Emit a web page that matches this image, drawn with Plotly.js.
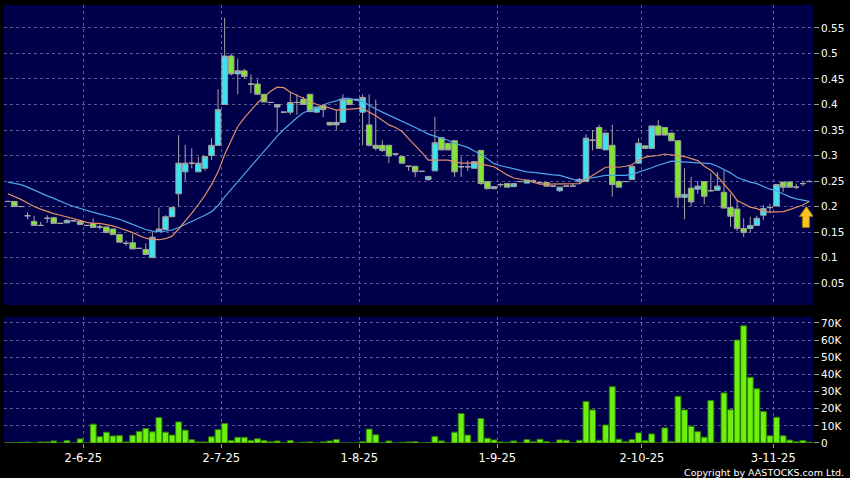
<!DOCTYPE html>
<html>
<head>
<meta charset="utf-8">
<script src="https://cdn.plot.ly/plotly-3.0.1.min.js"></script>
<style>
  html, body { margin: 0; padding: 0; background: #000000; }
  #chart { width: 850px; height: 478px; }
</style>
</head>
<body>
<div id="chart"></div>
<script>
// ---- Trading days shown (categories) ----
const dates = [
  "2025-05-15","2025-05-16","2025-05-19","2025-05-20","2025-05-21","2025-05-22","2025-05-23","2025-05-26","2025-05-27","2025-05-28","2025-05-29","2025-05-30",
  "2025-06-02","2025-06-03","2025-06-04","2025-06-05","2025-06-06","2025-06-09","2025-06-10","2025-06-11","2025-06-12","2025-06-13","2025-06-16","2025-06-17","2025-06-18","2025-06-19","2025-06-20","2025-06-23","2025-06-24","2025-06-25","2025-06-26","2025-06-27","2025-06-30",
  "2025-07-02","2025-07-03","2025-07-04","2025-07-07","2025-07-08","2025-07-09","2025-07-10","2025-07-11","2025-07-14","2025-07-15","2025-07-16","2025-07-17","2025-07-18","2025-07-21","2025-07-22","2025-07-23","2025-07-24","2025-07-28","2025-07-29","2025-07-30","2025-07-31",
  "2025-08-01","2025-08-04","2025-08-05","2025-08-06","2025-08-07","2025-08-08","2025-08-11","2025-08-12","2025-08-13","2025-08-14","2025-08-15","2025-08-18","2025-08-19","2025-08-20","2025-08-21","2025-08-22","2025-08-25","2025-08-26","2025-08-27","2025-08-28","2025-08-29",
  "2025-09-01","2025-09-02","2025-09-03","2025-09-04","2025-09-05","2025-09-08","2025-09-09","2025-09-10","2025-09-11","2025-09-12","2025-09-15","2025-09-16","2025-09-17","2025-09-18","2025-09-19","2025-09-22","2025-09-23","2025-09-24","2025-09-25","2025-09-26","2025-09-29","2025-09-30",
  "2025-10-02","2025-10-03","2025-10-06","2025-10-08","2025-10-09","2025-10-10","2025-10-13","2025-10-14","2025-10-15","2025-10-16","2025-10-17","2025-10-20","2025-10-21","2025-10-22","2025-10-23","2025-10-24","2025-10-27","2025-10-28","2025-10-30","2025-10-31",
  "2025-11-03","2025-11-04","2025-11-05","2025-11-06","2025-11-07","2025-11-10"
];

// ---- Price series ----
const openP = [
  0.21,0.21,0.20,0.182,0.171,0.163,0.177,0.178,0.167,0.168,
  0.172,0.171,0.163,0.167,0.16,0.16,0.156,0.145,0.128,0.129,
  0.118,0.116,0.10,0.153,0.155,0.18,0.225,0.268,0.285,0.268,
  0.275,0.30,0.32,0.40,0.495,0.46,0.466,0.44,0.44,0.42,
  0.404,0.395,0.385,0.385,0.404,0.41,0.42,0.385,0.398,0.365,
  0.36,0.365,0.41,0.41,0.385,0.36,0.32,0.32,0.32,0.303,
  0.298,0.279,0.279,0.269,0.253,0.27,0.335,0.324,0.329,0.278,
  0.278,0.275,0.31,0.249,0.235,0.243,0.245,0.239,0.249,0.246,
  0.25,0.247,0.247,0.24,0.231,0.24,0.24,0.249,0.249,0.33,
  0.355,0.311,0.32,0.249,0.249,0.253,0.285,0.319,0.314,0.358,
  0.355,0.344,0.329,0.218,0.236,0.234,0.249,0.231,0.232,0.228,
  0.198,0.195,0.157,0.157,0.163,0.183,0.198,0.201,0.248,0.248,
  0.238,0.245,0.249
];
const highP = [
  0.21,0.21,0.20,0.189,0.182,0.17,0.183,0.18,0.167,0.175,
  0.172,0.171,0.163,0.177,0.165,0.16,0.156,0.145,0.133,0.147,
  0.118,0.128,0.151,0.198,0.183,0.20,0.34,0.321,0.314,0.298,
  0.298,0.334,0.43,0.57,0.50,0.49,0.47,0.459,0.449,0.42,
  0.404,0.40,0.385,0.425,0.42,0.415,0.42,0.395,0.398,0.365,
  0.39,0.42,0.41,0.41,0.42,0.42,0.41,0.33,0.32,0.303,
  0.298,0.279,0.279,0.269,0.259,0.376,0.335,0.324,0.329,0.298,
  0.29,0.288,0.31,0.249,0.239,0.246,0.245,0.245,0.249,0.252,
  0.253,0.247,0.247,0.24,0.238,0.24,0.245,0.256,0.342,0.35,
  0.36,0.344,0.36,0.252,0.249,0.279,0.334,0.319,0.358,0.37,
  0.355,0.344,0.329,0.275,0.258,0.25,0.249,0.265,0.268,0.271,
  0.225,0.213,0.177,0.18,0.182,0.203,0.205,0.243,0.248,0.25,
  0.245,0.25,0.252
];
const lowP = [
  0.21,0.20,0.20,0.175,0.163,0.163,0.168,0.167,0.167,0.168,
  0.172,0.165,0.163,0.159,0.155,0.149,0.145,0.13,0.123,0.117,
  0.118,0.106,0.10,0.153,0.155,0.18,0.20,0.249,0.275,0.268,
  0.27,0.291,0.32,0.40,0.457,0.42,0.45,0.422,0.42,0.404,
  0.404,0.345,0.385,0.38,0.38,0.40,0.386,0.385,0.375,0.358,
  0.35,0.365,0.40,0.41,0.32,0.318,0.31,0.307,0.285,0.303,
  0.285,0.27,0.258,0.269,0.25,0.27,0.311,0.311,0.258,0.258,
  0.27,0.275,0.243,0.234,0.235,0.238,0.238,0.239,0.249,0.246,
  0.246,0.247,0.24,0.24,0.228,0.24,0.24,0.246,0.249,0.31,
  0.314,0.311,0.219,0.238,0.249,0.253,0.285,0.314,0.314,0.34,
  0.34,0.329,0.198,0.175,0.2,0.225,0.205,0.23,0.232,0.197,
  0.16,0.152,0.14,0.15,0.163,0.174,0.187,0.201,0.229,0.238,
  0.234,0.24,0.249
];
const closeP = [
  0.21,0.20,0.20,0.182,0.163,0.163,0.177,0.167,0.167,0.173,
  0.172,0.165,0.163,0.159,0.16,0.149,0.145,0.13,0.128,0.117,
  0.118,0.106,0.14,0.156,0.18,0.198,0.285,0.285,0.285,0.285,
  0.298,0.32,0.39,0.495,0.46,0.466,0.455,0.44,0.42,0.405,
  0.404,0.40,0.385,0.404,0.404,0.40,0.386,0.395,0.39,0.36,
  0.365,0.41,0.40,0.41,0.414,0.32,0.314,0.31,0.299,0.303,
  0.285,0.279,0.268,0.269,0.259,0.325,0.311,0.311,0.268,0.278,
  0.278,0.288,0.245,0.235,0.239,0.243,0.238,0.245,0.249,0.252,
  0.25,0.247,0.24,0.24,0.238,0.24,0.24,0.253,0.334,0.33,
  0.314,0.344,0.243,0.238,0.249,0.279,0.324,0.314,0.358,0.34,
  0.34,0.329,0.218,0.224,0.209,0.24,0.22,0.231,0.24,0.197,
  0.181,0.157,0.149,0.163,0.177,0.196,0.198,0.243,0.238,0.238,
  0.238,0.245,0.249
];

// ---- Moving averages (10-day orange, 20-day blue) ----
const ma10 = [
  0.225,0.22,0.214,0.207,0.2,0.195,0.19,0.186,0.183,0.180,
  0.176,0.173,0.169,0.167,0.167,0.165,0.162,0.158,0.154,0.149,
  0.143,0.138,0.135,0.135,0.137,0.142,0.156,0.171,0.187,0.204,
  0.222,0.243,0.268,0.302,0.330,0.357,0.374,0.389,0.403,0.415,
  0.426,0.434,0.433,0.424,0.418,0.412,0.405,0.400,0.397,0.393,
  0.389,0.390,0.391,0.392,0.393,0.385,0.378,0.369,0.360,0.355,
  0.347,0.333,0.320,0.306,0.291,0.291,0.291,0.291,0.288,0.285,
  0.285,0.286,0.283,0.280,0.278,0.270,0.262,0.256,0.254,0.251,
  0.248,0.244,0.244,0.244,0.244,0.244,0.244,0.245,0.253,0.261,
  0.268,0.277,0.278,0.277,0.279,0.282,0.291,0.297,0.299,0.300,
  0.303,0.301,0.299,0.298,0.294,0.290,0.279,0.271,0.259,0.245,
  0.229,0.212,0.205,0.199,0.196,0.191,0.189,0.190,0.190,0.194,
  0.199,0.203,0.21
];
const ma20 = [
  0.248,0.246,0.243,0.238,0.232,0.227,0.221,0.216,0.21,0.205,
  0.2,0.196,0.192,0.188,0.185,0.182,0.179,0.175,0.17,0.165,
  0.160,0.155,0.152,0.151,0.152,0.154,0.159,0.165,0.171,0.176,
  0.183,0.190,0.202,0.219,0.234,0.249,0.265,0.280,0.295,0.309,
  0.324,0.338,0.351,0.363,0.374,0.384,0.389,0.395,0.400,0.404,
  0.407,0.412,0.412,0.408,0.406,0.398,0.391,0.385,0.379,0.374,
  0.368,0.362,0.356,0.349,0.342,0.338,0.334,0.330,0.324,0.320,
  0.316,0.309,0.302,0.293,0.284,0.280,0.277,0.273,0.271,0.268,
  0.267,0.265,0.264,0.262,0.261,0.257,0.253,0.250,0.254,0.256,
  0.258,0.261,0.261,0.261,0.261,0.263,0.267,0.271,0.276,0.281,
  0.285,0.289,0.288,0.287,0.286,0.286,0.285,0.284,0.279,0.273,
  0.266,0.257,0.252,0.248,0.245,0.240,0.234,0.231,0.225,0.219,
  0.215,0.213,0.21
];

// ---- Volume (shares) ----
const volume = [
  200,200,400,500,0,600,600,1200,0,1400,
  0,2400,0,11000,3700,6300,4100,4300,600,4500,
  6800,8400,6500,14800,6300,4600,12300,7500,1900,600,
  600,3600,7800,11400,1500,3300,3300,1500,2500,1500,
  700,1200,0,1500,0,400,600,0,600,1200,
  2100,0,0,0,800,8100,4800,200,1200,0,
  400,600,800,0,300,3800,1200,0,6300,17200,
  4600,400,14300,2800,1800,600,400,1200,0,2000,
  700,2200,800,0,1800,1600,0,1600,24200,19300,
  1600,10500,32800,2200,700,2000,5900,1300,5300,0,
  8800,900,27200,19300,9800,6600,3400,24800,300,29200,
  19400,60000,68300,38300,31600,18400,4200,15000,4200,1700,
  700,1500,500
];

// ---- Axis labels ----
const tickDates  = ["2025-06-02","2025-07-02","2025-08-01","2025-09-01","2025-10-02","2025-11-03"];
const tickLabels = ["2-6-25","2-7-25","1-8-25","1-9-25","2-10-25","3-11-25"];
const priceTicks    = [0.05,0.1,0.15,0.2,0.25,0.3,0.35,0.4,0.45,0.5,0.55];
const priceTickText = ["0.05","0.1","0.15","0.2","0.25","0.3","0.35","0.4","0.45","0.5","0.55"];
const volTicks    = [0,10000,20000,30000,40000,50000,60000,70000];
const volTickText = ["0","10K","20K","30K","40K","50K","60K","70K"];

// ---- Build traces ----
const xIdx = dates.map((d, i) => i);
// grid lines / labels sit on the left boundary of each month's first session
const tickIdx = tickDates.map(d => dates.indexOf(d) - 0.5);

function subset(pred) {
  const idx = xIdx.filter(pred);
  return {
    x: idx,
    open: idx.map(i => openP[i]),
    high: idx.map(i => highP[i]),
    low: idx.map(i => lowP[i]),
    close: idx.map(i => closeP[i]),
    text: idx.map(i => dates[i])
  };
}

const WICK = '#a3a3a3';
const UP = '#38e4f2';
const DOWN = '#80e62e';
const DOJI = '#a8a8a8';

function candleTrace(data, fill, line) {
  return Object.assign({
    type: 'candlestick',
    xaxis: 'x', yaxis: 'y',
    increasing: { fillcolor: fill, line: { color: line, width: 1 } },
    decreasing: { fillcolor: fill, line: { color: line, width: 1 } },
    whiskerwidth: 0,
    showlegend: false,
    hoverinfo: 'skip'
  }, data);
}

const traces = [
  candleTrace(subset(i => closeP[i] > openP[i]), UP, WICK),
  candleTrace(subset(i => closeP[i] < openP[i]), DOWN, WICK),
  candleTrace(subset(i => closeP[i] === openP[i]), DOJI, DOJI),
  {
    type: 'scatter', mode: 'lines', x: xIdx, y: ma20,
    line: { color: '#4ea6ea', width: 1.2 }, xaxis: 'x', yaxis: 'y',
    showlegend: false, hoverinfo: 'skip'
  },
  {
    type: 'scatter', mode: 'lines', x: xIdx, y: ma10,
    line: { color: '#e08e68', width: 1.2 }, xaxis: 'x', yaxis: 'y',
    showlegend: false, hoverinfo: 'skip'
  },
  {
    type: 'bar', x: xIdx, y: volume, xaxis: 'x', yaxis: 'y2',
    marker: { color: '#6cf012', line: { color: '#2f7d00', width: 1 } },
    showlegend: false, hoverinfo: 'skip'
  }
];

const GRID = '#5a5a96';
const lastI = xIdx[xIdx.length - 1];

const layout = {
  width: 850, height: 478,
  paper_bgcolor: '#000000',
  plot_bgcolor: '#00004a',
  margin: { l: 4, r: 37, t: 5, b: 35, pad: 0 },
  font: { family: 'DejaVu Sans, Verdana, sans-serif', color: '#ffffff', size: 10.5 },
  showlegend: false,
  boxgap: 0.1,
  boxgroupgap: 0.07,
  bargap: 0.1,
  xaxis: {
    anchor: 'y2',
    range: [-0.58, lastI + 0.55],
    tickmode: 'array',
    tickvals: tickIdx,
    ticktext: tickLabels,
    ticks: 'outside', ticklen: 4, tickcolor: '#9a9a9a', tickwidth: 1,
    showgrid: true, gridcolor: GRID, griddash: '3px,3px', gridwidth: 1,
    zeroline: false, showline: false,
    rangeslider: { visible: false },
    tickfont: { size: 11.5, color: '#ffffff' },
    fixedrange: true
  },
  yaxis: {
    domain: [0.315, 1],
    range: [0.007, 0.595],
    side: 'right',
    tickmode: 'array', tickvals: priceTicks, ticktext: priceTickText,
    ticks: 'outside', ticklen: 5, tickcolor: '#9a9a9a',
    showgrid: true, gridcolor: GRID, griddash: '3px,3px', gridwidth: 1,
    zeroline: false, showline: false,
    tickfont: { size: 10.5, color: '#ffffff' },
    fixedrange: true
  },
  yaxis2: {
    domain: [0, 0.288],
    range: [0, 73500],
    side: 'right',
    tickmode: 'array', tickvals: volTicks, ticktext: volTickText,
    ticks: 'outside', ticklen: 5, tickcolor: '#9a9a9a',
    showgrid: true, gridcolor: GRID, griddash: '3px,3px', gridwidth: 1,
    zeroline: false, showline: false,
    tickfont: { size: 10.5, color: '#ffffff' },
    fixedrange: true
  },
  shapes: [
    {
      type: 'path', xref: 'x', yref: 'y',
      xsizemode: 'pixel', ysizemode: 'pixel',
      xanchor: lastI, yanchor: ma10[lastI],
      path: 'M -3,-5 L 4,-15 L 0,-15 L 0,-26 L -7,-26 L -7,-15 L -10,-15 Z',
      fillcolor: '#f7c520',
      line: { color: '#a47400', width: 1 },
      layer: 'above'
    }
  ],
  annotations: [
    {
      text: 'Copyright by AASTOCKS.com Ltd.',
      xref: 'paper', yref: 'paper',
      x: 1, y: 0, xanchor: 'right', yanchor: 'top',
      xshift: 33, yshift: -22,
      showarrow: false,
      font: { family: 'DejaVu Sans, Verdana, sans-serif', size: 9.5, color: '#ffffff' }
    }
  ]
};

Plotly.newPlot('chart', traces, layout, { displayModeBar: false, staticPlot: true });
</script>
</body>
</html>
